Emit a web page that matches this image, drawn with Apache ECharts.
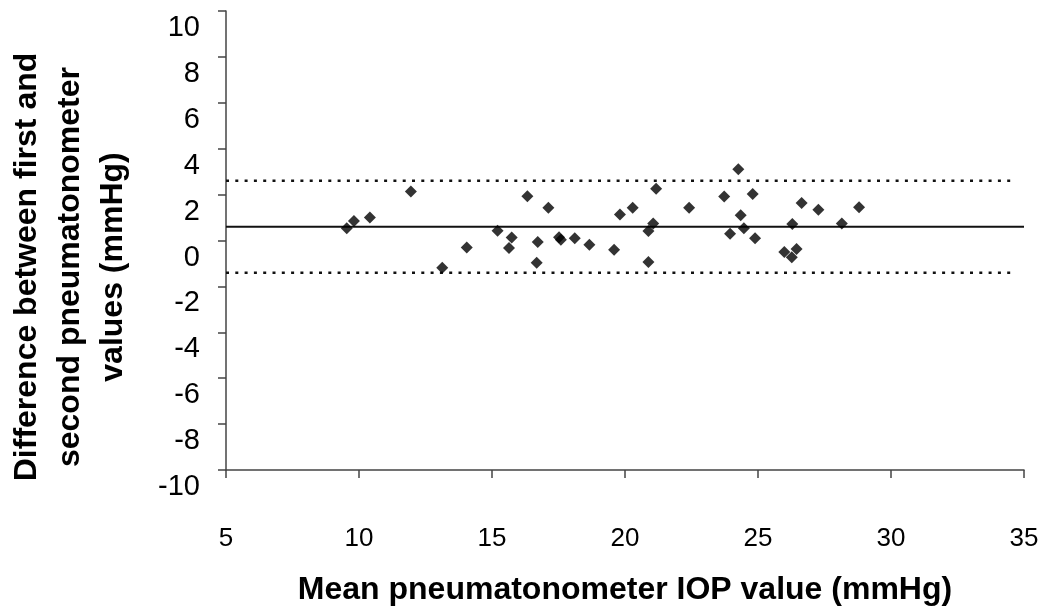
<!DOCTYPE html>
<html>
<head>
<meta charset="utf-8">
<title>Bland-Altman plot: pneumatonometer repeatability</title>
<script src="https://cdn.jsdelivr.net/npm/echarts@6/dist/echarts.min.js"></script>
<style>
  html, body { margin: 0; padding: 0; background: #fff; }
  #chart { width: 1048px; height: 611px; }
</style>
</head>
<body>
<div id="chart"></div>
<script>
// Mean of the two readings (x) and their difference (y), mmHg
const meanIOP = [
  9.54, 9.81, 10.41, 11.95, 13.13, 14.05, 15.21, 15.74, 15.64, 16.33,
  16.72, 16.68, 17.12, 17.52, 17.59, 18.11, 18.66, 19.59, 19.81, 20.29,
  21.17, 21.06, 20.88, 20.88, 22.41, 23.73, 24.26, 24.35, 23.95, 24.47,
  24.80, 24.89, 26.64, 26.29, 25.99, 26.45, 26.27, 27.27, 28.15, 28.80
];
const diffIOP = [
  0.53, 0.85, 1.00, 2.13, -1.19, -0.30, 0.42, 0.13, -0.33, 1.93,
  -0.07, -0.97, 1.43, 0.14, 0.03, 0.10, -0.19, -0.40, 1.13, 1.43,
  2.25, 0.74, 0.41, -0.94, 1.43, 1.92, 3.10, 1.10, 0.29, 0.53,
  2.03, 0.10, 1.63, 0.72, -0.50, -0.37, -0.73, 1.34, 0.74, 1.45
];

// Mean difference and 95% limits of agreement
const meanDiff = 0.6;
const upperLimit = 2.6;
const lowerLimit = -1.4;
const lineSpan = [5, 35];
const dottedSpan = [5, 34.7];

// Axis ranges
const xRange = { min: 5, max: 35, step: 5 };
const yRange = { min: -10, max: 10, step: 2 };

const xTitle = 'Mean pneumatonometer IOP value (mmHg)';
const yTitle = 'Difference between first and\nsecond pneumatonometer\nvalues (mmHg)';

const FONT = '"Liberation Sans", Arial, Helvetica, sans-serif';

const points = meanIOP.map((x, i) => [x, diffIOP[i]]);
const hLine = (span, y) => span.map(x => [x, y]);

const chart = echarts.init(document.getElementById('chart'), null, { renderer: 'canvas' });

chart.setOption({
  animation: false,
  backgroundColor: '#fff',
  grid: { left: 226, right: 24, top: 11, bottom: 134, containLabel: false },
  xAxis: {
    type: 'value',
    min: xRange.min, max: xRange.max, interval: xRange.step,
    name: xTitle,
    nameLocation: 'middle',
    nameGap: 104,
    nameTextStyle: { fontFamily: FONT, fontWeight: 'bold', fontSize: 32, color: '#000' },
    axisLine: { onZero: false, lineStyle: { color: '#444', width: 1.5 } },
    axisTick: { show: true, inside: false, length: 8, lineStyle: { color: '#444', width: 1.5 } },
    axisLabel: { margin: 56, fontFamily: FONT, fontSize: 26, color: '#000' },
    splitLine: { show: false }
  },
  yAxis: {
    type: 'value',
    min: yRange.min, max: yRange.max, interval: yRange.step,
    axisLine: { show: true, onZero: false, lineStyle: { color: '#444', width: 1.5 } },
    axisTick: { show: true, inside: false, length: 8, lineStyle: { color: '#444', width: 1.5 } },
    axisLabel: {
      margin: 26, fontFamily: FONT, fontSize: 29, color: '#000',
      verticalAlign: 'top', lineHeight: 34
    },
    splitLine: { show: false }
  },
  graphic: [{
    type: 'text',
    x: 70, y: 267,
    rotation: Math.PI / 2,
    style: {
      text: yTitle,
      x: 0, y: 0,
      align: 'center',
      verticalAlign: 'middle',
      font: 'bold 32px ' + FONT,
      lineHeight: 43,
      fill: '#000'
    }
  }],
  series: [
    {
      name: 'Mean difference',
      type: 'line',
      data: hLine(lineSpan, meanDiff),
      symbol: 'none',
      lineStyle: { color: '#111', width: 2 },
      z: 1, silent: true
    },
    {
      name: 'Upper limit',
      type: 'line',
      data: hLine(dottedSpan, upperLimit),
      symbol: 'none',
      lineStyle: { color: '#111', width: 2.5, type: [3, 6.3] },
      z: 1, silent: true
    },
    {
      name: 'Lower limit',
      type: 'line',
      data: hLine(dottedSpan, lowerLimit),
      symbol: 'none',
      lineStyle: { color: '#111', width: 2.5, type: [3, 6.3] },
      z: 1, silent: true
    },
    {
      name: 'Difference',
      type: 'scatter',
      data: points,
      symbol: 'diamond',
      symbolSize: 12,
      itemStyle: { color: '#000' },
      z: 3
    }
  ]
});
</script>
</body>
</html>
